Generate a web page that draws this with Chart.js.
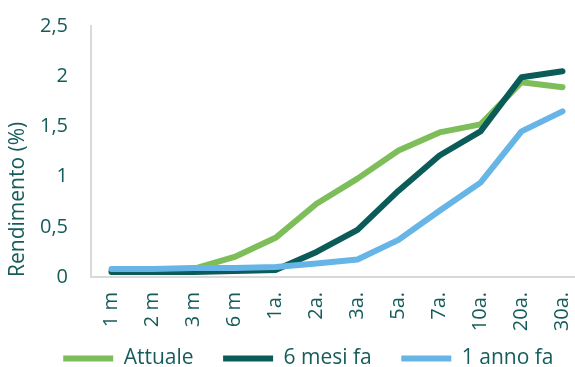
<!DOCTYPE html>
<html lang="it">
<head>
<meta charset="utf-8">
<title>Curva dei rendimenti</title>
<script src="https://cdn.jsdelivr.net/npm/chart.js@4/dist/chart.umd.min.js"></script>
<style>
  html, body { margin: 0; padding: 0; background: #fff; overflow: hidden; }
  #wrap { width: 583px; height: 367px; }
</style>
</head>
<body>
<div id="wrap"><canvas id="yieldChart" width="583" height="367"></canvas></div>
<script>
"use strict";

// scadenze
const maturities = ['1 m', '2 m', '3 m', '6 m', '1a.', '2a.', '3a.', '5a.', '7a.', '10a.', '20a.', '30a.'];

// rendimenti (%)
const attuale   = [0.06, 0.06, 0.08, 0.20, 0.39, 0.73, 0.98, 1.26, 1.44, 1.52, 1.94, 1.89];
const seiMesiFa = [0.05, 0.05, 0.05, 0.06, 0.07, 0.25, 0.47, 0.86, 1.21, 1.45, 1.99, 2.05];
const unAnnoFa  = [0.08, 0.08, 0.09, 0.09, 0.10, 0.135, 0.175, 0.37, 0.66, 0.94, 1.45, 1.65];

const seriesNames = ['Attuale', '6 mesi fa', '1 anno fa'];
const yTicks = [0, 0.5, 1, 1.5, 2, 2.5];

const textColor = '#155C5B';
const axisColor = '#D9D9D9';
const font = 'Open Sans';

function lineSet(label, data, color, order) {
  return {
    label, data, order,
    borderColor: color,
    backgroundColor: color,
    borderWidth: 6,
    borderCapStyle: 'round',
    borderJoinStyle: 'round',
    pointRadius: 0,
    pointHoverRadius: 0,
    tension: 0,
    fill: false
  };
}

// legend padding also sets the item gaps, so pull the row up a bit afterwards
const legendLift = {
  id: 'legendLift',
  afterLayout(chart) {
    const lg = chart.legend;
    if (!lg) return;
    lg.top -= 16.5;
    lg.bottom -= 16.5;
  }
};

new Chart(document.getElementById('yieldChart'), {
  type: 'line',
  data: {
    labels: maturities,
    datasets: [
      lineSet(seriesNames[0], attuale,   '#7DBE5A', 3),
      lineSet(seriesNames[1], seiMesiFa, '#0B5C58', 2),
      lineSet(seriesNames[2], unAnnoFa,  '#66B5E6', 1)
    ]
  },
  plugins: [legendLift],
  options: {
    responsive: false,
    animation: false,
    layout: { padding: { top: 26, right: 0, bottom: -28.5, left: 0 } },
    plugins: {
      tooltip: { enabled: false },
      legend: {
        position: 'bottom',
        align: 'end',
        labels: {
          usePointStyle: true,
          pointStyle: 'line',
          pointStyleWidth: 50,
          padding: 29.5,
          color: textColor,
          font: { family: font, size: 21 },
          sort: (a, b) => a.datasetIndex - b.datasetIndex
        }
      }
    },
    scales: {
      x: {
        offset: true,
        grid: { display: false, drawTicks: false },
        border: { display: true, color: axisColor, width: 2 },
        ticks: {
          autoSkip: false,
          minRotation: 90,
          maxRotation: 90,
          padding: 15,
          color: textColor,
          font: { family: font, size: 20 }
        },
        // fixed height, no extra side padding (chart area runs to the canvas edge)
        afterFit: (scale) => {
          scale.height = 58;
          scale.paddingLeft = 0;
          scale.paddingRight = 0;
        }
      },
      y: {
        min: 0,
        max: 2.5,
        grid: { display: false, drawTicks: false },
        border: { display: true, color: axisColor, width: 2 },
        afterBuildTicks: (scale) => { scale.ticks = yTicks.map(v => ({ value: v })); },
        ticks: {
          padding: 23,
          color: textColor,
          font: { family: font, size: 20 },
          callback: (v) => String(v).replace('.', ',')
        },
        title: {
          display: true,
          text: 'Rendimento (%)',
          align: 'start',
          color: textColor,
          font: { family: font, size: 21 },
          padding: { top: 5, bottom: 0 }
        },
        afterFit: (scale) => {
          scale.width = 91;
          scale.paddingTop = 0;
          scale.paddingBottom = 0;
        }
      }
    }
  }
});
</script>
</body>
</html>
